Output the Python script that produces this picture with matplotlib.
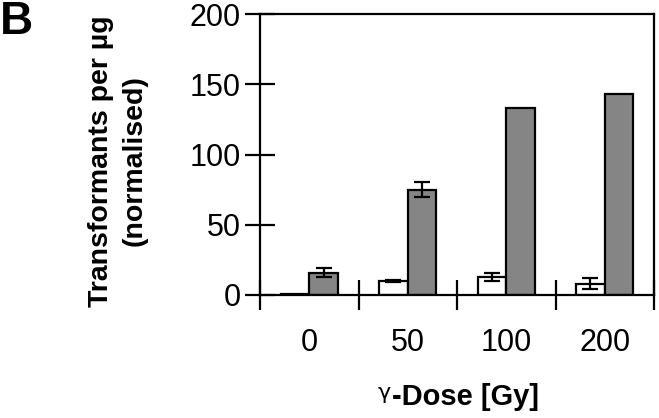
import numpy as np
import matplotlib.pyplot as plt

plt.rcParams['font.family'] = ['Liberation Sans', 'DejaVu Sans']

# Data
doses = ['0', '50', '100', '200']
white_vals = [1, 10, 13, 8]
white_err = [0, 1, 3, 4]
gray_vals = [16, 75, 133, 143]
gray_err = [3.5, 5.5, 0, 0]

x = np.arange(len(doses))
w = 0.29

fig = plt.figure(figsize=(6.59, 4.18), dpi=100)
ax = fig.add_axes([260 / 659, 1 - 295 / 418, 394 / 659, 281 / 418])

ebar = dict(ecolor='black', elinewidth=1.6, capsize=6, capthick=1.6)
ax.bar(x - w / 2, white_vals, w, color='white', edgecolor='black',
       linewidth=1.6, zorder=2)
ax.bar(x + w / 2, gray_vals, w, color='#858585', edgecolor='black',
       linewidth=1.6, zorder=2)
for xi, v, e in zip(x - w / 2, white_vals, white_err):
    if e > 0:
        ax.errorbar(xi, v, yerr=e, fmt='none', zorder=3, **ebar)
for xi, v, e in zip(x + w / 2, gray_vals, gray_err):
    if e > 0:
        ax.errorbar(xi, v, yerr=e, fmt='none', zorder=3, **ebar)

ax.set_xlim(-0.5, len(doses) - 0.5)
ax.set_ylim(0, 200)
ax.set_yticks([0, 50, 100, 150, 200])

# group dividers as ticks, labels at centres
ax.set_xticks(np.arange(-0.5, len(doses)), minor=False)
ax.set_xticklabels([])
ax.set_xticks(x, minor=True)
ax.set_xticklabels(doses, minor=True)
ax.tick_params(axis='x', which='major', direction='inout', length=22, width=1.6)
ax.tick_params(axis='x', which='minor', length=0, pad=24, labelsize=22)
ax.tick_params(axis='y', direction='inout', length=22, width=1.6, labelsize=22, pad=3)

for s in ax.spines.values():
    s.set_linewidth(1.6)

fig.text(118 / 659, 1 - 161 / 418, 'Transformants per µg\n(normalised)',
         fontsize=20.5, fontweight='bold', linespacing=1.4, rotation=90,
         ha='center', va='center', multialignment='center')

fig.text(466 / 659, 1 - 397 / 418, '-Dose [Gy]', fontsize=21, fontweight='bold',
         ha='center', va='center')
fig.text(384 / 659, 1 - 393 / 418, 'γ', fontsize=16, ha='center', va='center',
         family=['DejaVu Sans'])
fig.text(0.0, 1.0, 'B', fontsize=33, fontweight='bold', ha='left', va='top')

fig.savefig('out.png', dpi=100)
